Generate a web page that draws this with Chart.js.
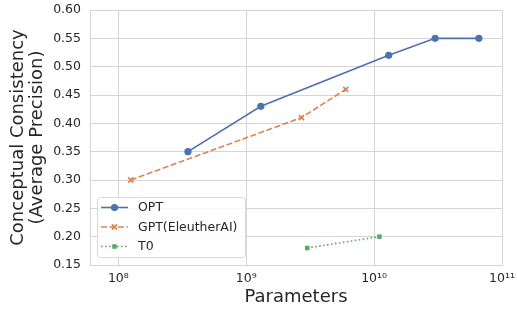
<!DOCTYPE html>
<html>
<head>
<meta charset="utf-8">
<script src="https://cdn.jsdelivr.net/npm/chart.js@4/dist/chart.umd.min.js"></script>
<style>
  html, body { margin: 0; background: #fff; }
  #wrap { width: 517px; height: 309px; position: relative; }
</style>
</head>
<body>
<div id="wrap"><canvas id="chart"></canvas></div>
<script>
// data
const seriesNames = ["OPT", "GPT(EleutherAI)", "T0"];
const optParams = [3.5e8, 1.3e9, 1.3e10, 3e10, 6.6e10];
const optScores = [0.35, 0.43, 0.52, 0.55, 0.55];
const gptParams = [1.25e8, 2.7e9, 6e9];
const gptScores = [0.30, 0.41, 0.46];
const t0Params = [3e9, 1.1e10];
const t0Scores = [0.18, 0.20];
const xTicks = [1e8, 1e9, 1e10, 1e11];
const xTickLabels = ["10⁸", "10⁹", "10¹⁰", "10¹¹"];

const FONT = "'DejaVu Sans', sans-serif";
const TEXT = "#262626";
const GRID = "#d5d5d5";

const toPoints = (xs, ys) => xs.map((x, i) => ({ x: x, y: ys[i] }));

// legend drawn inside the plot, lower left, like matplotlib's
const innerLegend = {
    id: "innerLegend",
    afterDraw(chart) {
        const ctx = chart.ctx, a = chart.chartArea;
        const x0 = a.left + 7, w = 148, h = 60, y0 = a.bottom - 8 - h;
        ctx.save();
        ctx.fillStyle = "rgba(255,255,255,0.85)";
        ctx.strokeStyle = "#d8d8d8";
        ctx.lineWidth = 1;
        ctx.beginPath();
        ctx.roundRect(x0 + 0.5, y0 + 0.5, w, h, 3);
        ctx.fill();
        ctx.stroke();
        chart.data.datasets.forEach((ds, i) => {
            const y = y0 + 10.5 + i * 19.5;
            ctx.strokeStyle = ds.borderColor;
            ctx.lineWidth = ds.borderWidth;
            ctx.setLineDash(ds.borderDash || []);
            ctx.beginPath();
            ctx.moveTo(x0 + 4, y);
            ctx.lineTo(x0 + 31, y);
            ctx.stroke();
            ctx.setLineDash([]);
            ctx.fillStyle = ds.pointBackgroundColor;
            ctx.strokeStyle = ds.pointBorderColor;
            ctx.lineWidth = ds.pointBorderWidth;
            Chart.helpers.drawPoint(ctx, {
                pointStyle: ds.pointStyle, radius: ds.pointRadius, borderWidth: ds.pointBorderWidth, rotation: 0
            }, x0 + 17.5, y);
            ctx.fillStyle = TEXT;
            ctx.font = "12.5px " + FONT;
            ctx.textBaseline = "middle";
            ctx.fillText(ds.label, x0 + 41, y + 0.5);
        });
        ctx.restore();
    }
};

// plot border on all four sides
const frame = {
    id: "frame",
    beforeDatasetsDraw(chart) {
        const ctx = chart.ctx, a = chart.chartArea;
        ctx.save();
        ctx.strokeStyle = GRID;
        ctx.lineWidth = 1;
        ctx.strokeRect(a.left + 0.5, a.top + 0.5, a.right - a.left, a.bottom - a.top);
        ctx.restore();
    }
};

const colors = ["#4C72B0", "#DD8452", "#55A868"];

new Chart(document.getElementById("chart"), {
    type: "line",
    data: {
        datasets: [
            {
                label: seriesNames[0], data: toPoints(optParams, optScores),
                borderColor: colors[0], backgroundColor: colors[0], borderWidth: 1.6,
                pointStyle: "circle", pointRadius: 3.6, pointBorderWidth: 0,
                pointBackgroundColor: colors[0], pointBorderColor: colors[0]
            },
            {
                label: seriesNames[1], data: toPoints(gptParams, gptScores),
                borderColor: colors[1], backgroundColor: colors[1], borderWidth: 1.6, borderDash: [6, 2.5],
                pointStyle: "crossRot", pointRadius: 3.6, pointBorderWidth: 1.8,
                pointBackgroundColor: colors[1], pointBorderColor: colors[1]
            },
            {
                label: seriesNames[2], data: toPoints(t0Params, t0Scores),
                borderColor: colors[2], backgroundColor: colors[2], borderWidth: 1.6, borderDash: [1.6, 2.4],
                pointStyle: "rect", pointRadius: 3.2, pointBorderWidth: 0,
                pointBackgroundColor: colors[2], pointBorderColor: colors[2]
            }
        ]
    },
    options: {
        responsive: true,
        maintainAspectRatio: false,
        animation: false,
        layout: { padding: { left: 0, right: 15, top: 10, bottom: 0 } },
        plugins: { legend: { display: false }, tooltip: { enabled: false } },
        scales: {
            x: {
                type: "logarithmic",
                min: 6e7,
                max: 1e11,
                afterBuildTicks: (s) => { s.ticks = xTicks.map(v => ({ value: v })); },
                afterFit: (s) => { s.height = 44; s.paddingLeft = 0; s.paddingRight = 0; },
                grid: { color: GRID, drawTicks: false },
                border: { display: false },
                ticks: {
                    padding: 6, color: TEXT, font: { family: FONT, size: 12.5 }, maxRotation: 0,
                    callback: (v) => xTickLabels[xTicks.indexOf(v)] || ""
                },
                title: {
                    display: true, text: "Parameters", color: TEXT,
                    font: { family: FONT, size: 18 }, padding: { top: 0, bottom: 1 }
                }
            },
            y: {
                min: 0.15,
                max: 0.60,
                afterFit: (s) => { s.width = 90; s.paddingTop = 0; s.paddingBottom = 0; },
                grid: { color: GRID, drawTicks: false },
                border: { display: false },
                ticks: {
                    stepSize: 0.05, padding: 9, color: TEXT, font: { family: FONT, size: 12.5 },
                    callback: (v) => v.toFixed(2)
                },
                title: {
                    display: true, text: ["Conceptual Consistency", "(Average Precision)"], color: TEXT,
                    font: { family: FONT, size: 18, lineHeight: 1.1 }, padding: { top: 8, bottom: 0 }
                }
            }
        }
    },
    plugins: [frame, innerLegend]
});
</script>
</body>
</html>
